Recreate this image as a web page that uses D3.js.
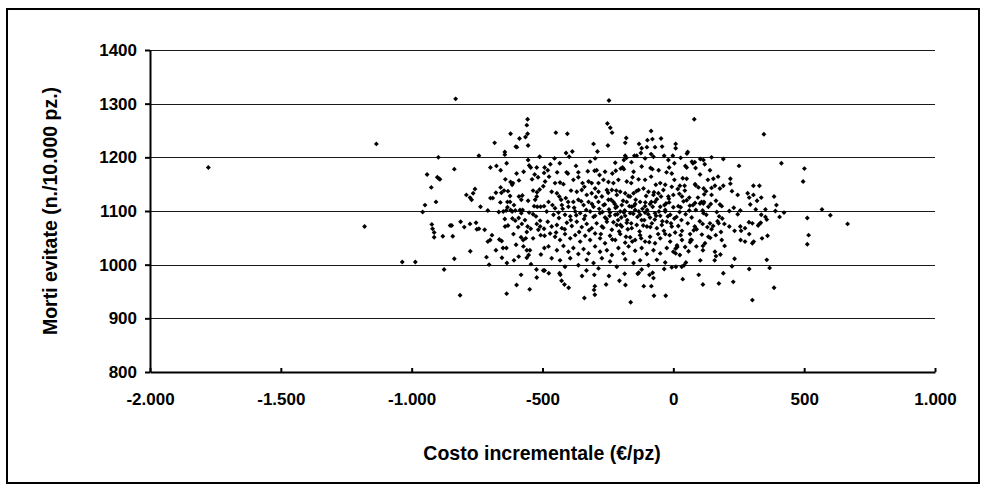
<!DOCTYPE html>
<html><head><meta charset="utf-8">
<script src="https://cdn.jsdelivr.net/npm/d3@7"></script>
<style>
html,body{margin:0;padding:0;background:#fff;}
svg{display:block;}
text{font-family:"Liberation Sans",Arial,sans-serif;font-weight:bold;fill:#000;}
</style></head>
<body>
<svg id="chart" width="987" height="490"></svg>
<script>
// ---- data (costo incrementale €/pz, morti evitate n./10.000 pz.) ----
const xTitle = "Costo incrementale (€/pz)";
const yTitle = "Morti evitate (n./10.000 pz.)";
const xTicks = [-2000, -1500, -1000, -500, 0, 500, 1000];
const xTickLabels = ["-2.000", "-1.500", "-1.000", "-500", "0", "500", "1.000"];
const yTicks = [800, 900, 1000, 1100, 1200, 1300, 1400];
const yTickLabels = ["800", "900", "1000", "1100", "1200", "1300", "1400"];

const outliers = [[-1777,1181],[-1135,1225],[-1180,1071],[-1036,1005],[-986,1005],[-832,1309],[-246,1306],[-557,1271],[-560,1260],[-252,1263],[-241,1255]];

const leftCloud = [[-622,1244],[-588,1235],[-565,1238],[-557,1244],[-683,1227],[-602,1220],[-598,1219],[-555,1222],[-644,1210],[-644,1205],[-743,1203],[-898,1200],[-511,1201],[-637,1189],[-555,1195],[-551,1185],[-699,1181],[-676,1184],[-660,1176],[-941,1168],[-837,1178],[-902,1163],[-895,1160],[-892,1159],[-599,1170],[-572,1173],[-522,1181],[-492,1181],[-545,1181],[-530,1168],[-540,1159],[-517,1163],[-494,1171],[-642,1159],[-622,1154],[-613,1152],[-616,1149],[-590,1157],[-660,1144],[-647,1138],[-632,1137],[-624,1128],[-657,1134],[-678,1134],[-925,1144],[-758,1141],[-765,1133],[-791,1130],[-777,1125],[-771,1121],[-699,1124],[-690,1124],[-907,1117],[-949,1111],[-737,1108],[-661,1116],[-634,1117],[-624,1117],[-609,1111],[-590,1127],[-577,1129],[-581,1121],[-555,1119],[-536,1138],[-521,1135],[-511,1140],[-497,1146],[-528,1121],[-522,1127],[-532,1109],[-520,1108],[-507,1108],[-494,1109],[-634,1107],[-639,1101],[-622,1102],[-616,1099],[-604,1101],[-586,1102],[-576,1102],[-650,1099],[-667,1098],[-709,1101],[-958,1098],[-581,1096],[-551,1097],[-536,1094],[-525,1090],[-923,1075],[-920,1067],[-914,1060],[-914,1051],[-853,1073],[-847,1073],[-799,1070],[-813,1080],[-777,1076],[-754,1078],[-743,1067],[-751,1066],[-721,1065],[-693,1055],[-700,1046],[-709,1043],[-881,1053],[-843,1053],[-644,1085],[-615,1086],[-591,1087],[-567,1083],[-579,1076],[-604,1082],[-643,1071],[-632,1073],[-593,1070],[-557,1071],[-545,1067],[-560,1061],[-522,1076],[-509,1071],[-494,1067],[-509,1082],[-516,1065],[-611,1057],[-582,1051],[-574,1046],[-564,1049],[-536,1049],[-507,1055],[-492,1054],[-665,1047],[-656,1044],[-601,1037],[-573,1034],[-678,1027],[-651,1031],[-638,1031],[-560,1027],[-548,1027],[-776,1025],[-553,1018],[-560,1013],[-506,1019],[-493,1031],[-714,1014],[-655,1013],[-837,1011],[-609,1008],[-591,1015],[-704,1000],[-636,1003],[-544,1001],[-876,991],[-523,991]];

const centreCloud = [[-449,1246],[-405,1244],[-234,1246],[-85,1249],[-180,1236],[-184,1227],[-305,1225],[-250,1222],[-290,1211],[-410,1208],[-386,1211],[-398,1201],[-131,1225],[-99,1232],[-80,1234],[-47,1235],[-121,1217],[-101,1219],[-70,1219],[-43,1220],[-124,1208],[-85,1206],[-184,1203],[-179,1199],[-149,1203],[-140,1203],[-108,1198],[-76,1201],[-35,1203],[-19,1195],[-2,1203],[-454,1198],[-318,1192],[-299,1198],[-222,1190],[-160,1191],[-189,1195],[-470,1187],[-434,1189],[-372,1184],[-480,1176],[-475,1164],[-444,1172],[-408,1172],[-403,1170],[-363,1172],[-327,1174],[-301,1175],[-293,1176],[-261,1173],[-282,1167],[-233,1170],[-220,1175],[-201,1179],[-194,1181],[-189,1178],[-152,1173],[-121,1183],[-87,1180],[-80,1178],[-56,1176],[-26,1172],[-16,1181],[-6,1170],[4,1189],[-490,1155],[-452,1152],[-433,1153],[-420,1150],[-382,1158],[-363,1163],[-347,1152],[-324,1155],[-340,1145],[-312,1152],[-299,1142],[-286,1152],[-267,1158],[-248,1154],[-229,1152],[-210,1158],[-178,1155],[-161,1152],[-156,1163],[-133,1159],[-108,1158],[-85,1164],[-67,1149],[-50,1152],[-31,1149],[-6,1145],[4,1158],[-465,1136],[-445,1133],[-436,1127],[-429,1121],[-411,1124],[-391,1138],[-369,1136],[-350,1139],[-331,1130],[-312,1133],[-286,1136],[-273,1127],[-254,1139],[-235,1139],[-216,1130],[-203,1136],[-184,1133],[-165,1127],[-152,1133],[-133,1139],[-114,1142],[-95,1136],[-76,1130],[-57,1133],[-38,1139],[-19,1127],[0,1130],[-477,1117],[-462,1111],[-452,1105],[-426,1111],[-401,1108],[-382,1117],[-363,1121],[-343,1111],[-324,1117],[-305,1108],[-286,1117],[-267,1111],[-248,1121],[-229,1117],[-216,1108],[-197,1111],[-178,1117],[-159,1108],[-146,1113],[-127,1117],[-108,1109],[-89,1113],[-70,1117],[-50,1108],[-34,1111],[-16,1116],[0,1107],[-484,1099],[-458,1093],[-439,1097],[-414,1093],[-394,1090],[-375,1099],[-356,1096],[-337,1091],[-318,1099],[-299,1091],[-280,1096],[-261,1088],[-242,1097],[-222,1093],[-203,1099],[-184,1091],[-165,1096],[-146,1102],[-127,1093],[-108,1097],[-89,1088],[-70,1096],[-50,1091],[-31,1099],[-12,1093],[4,1086],[-480,1080],[-465,1071],[-445,1074],[-426,1068],[-407,1078],[-388,1072],[-369,1080],[-350,1070],[-331,1076],[-312,1068],[-293,1077],[-273,1071],[-254,1080],[-235,1065],[-216,1074],[-197,1071],[-178,1078],[-159,1068],[-140,1074],[-121,1083],[-101,1071],[-82,1077],[-63,1068],[-44,1074],[-25,1080],[-6,1071],[-471,1058],[-452,1052],[-433,1046],[-414,1057],[-394,1049],[-375,1055],[-356,1043],[-337,1054],[-318,1046],[-299,1058],[-280,1049],[-261,1040],[-242,1054],[-222,1046],[-203,1057],[-184,1041],[-165,1051],[-146,1046],[-127,1055],[-108,1043],[-89,1052],[-70,1040],[-50,1049],[-31,1057],[-12,1043],[-477,1034],[-445,1027],[-420,1035],[-401,1024],[-382,1031],[-363,1020],[-343,1029],[-324,1021],[-299,1034],[-280,1024],[-254,1027],[-235,1018],[-210,1031],[-191,1021],[-171,1034],[-146,1026],[-121,1031],[-101,1020],[-76,1027],[-50,1021],[-25,1031],[0,1024],[-465,1012],[-433,1008],[-394,1012],[-363,999],[-331,1009],[-305,1003],[-273,1012],[-242,1006],[-216,996],[-184,1010],[-152,1003],[-127,1008],[-95,999],[-63,1009],[-31,1004],[-6,995],[-414,996],[-286,993],[-121,991],
[-283,1104],[-271,1098],[-262,1112],[-255,1085],[-246,1103],[-238,1121],[-229,1079],[-221,1106],[-214,1094],[-207,1062],[-199,1088],[-192,1119],[-186,1101],[-176,1083],[-168,1109],[-161,1077],[-153,1095],[-144,1121],[-137,1089],[-129,1062],[-118,1104],[-111,1083],[-104,1128],[-96,1094],[-88,1070],[-79,1108],[-71,1084],[-63,1122],[-55,1099],[-42,1081],[-36,1063],[-28,1114],[-21,1090],[-14,1055],[-9,1077],[-305,1089],[-311,1113],[-322,1064],[-333,1102],[-341,1085],[-352,1118],[-360,1061],[-371,1092],[-379,1106],[-392,1083],[-402,1117],[-415,1066],[-423,1104],[-437,1087],[-448,1060],[-296,1126],[-277,1057],[-249,1134],[-233,1047],[-218,1138],[-202,1074],[-181,1052],[-172,1128],[-157,1043],[-141,1137],[-123,1049],[-107,1116],[-92,1042],[-74,1135],[-58,1057],[-47,1127],[-268,1069],[-243,1091],[-224,1113],[-211,1083],[-189,1097],[-174,1066],[-150,1110],[-132,1099],[-115,1073],[-100,1102],[-84,1117],[-66,1091],[-31,1102],[-17,1123]];

const lowerCloud = [[-815,943],[-637,946],[-599,962],[-582,981],[-549,954],[-522,976],[-497,989],[-492,989],[-476,984],[-435,984],[-432,981],[-427,970],[-416,963],[-400,957],[-349,979],[-332,989],[-340,938],[-302,981],[-300,960],[-300,944],[-303,953],[-257,963],[-246,979],[-206,970],[-186,983],[-183,962],[-163,930],[-136,983],[-132,985],[-113,960],[-84,960],[-91,981],[-79,985],[-76,975],[-74,942],[-29,942],[-35,992]];

const rightCloud = [[80,1271],[346,1243],[413,1189],[251,1184],[501,1179],[496,1155],[568,1103],[600,1092],[666,1076],[512,1087],[517,1055],[512,1038],[423,1097],[406,1089],[394,1111],[385,1127],[390,1100],[357,1084],[360,1054],[352,1089],[302,934],[385,957],[357,1009],[368,994],[290,992],[229,968],[191,984],[174,965],[113,963],[97,981],[36,973],[234,1011],[224,997],[158,1008],[163,1016],[180,1019],[103,1008],[306,1147],[329,1147],[306,1130],[336,1125],[284,1133],[290,1125],[320,1119],[294,1112],[315,1103],[352,1103],[336,1093],[329,1076],[334,1078],[324,1073],[302,1077],[289,1079],[274,1068],[256,1071],[259,1063],[234,1063],[290,1057],[307,1043],[302,1040],[274,1043],[257,1046],[339,1049],[246,1094],[256,1101],[231,1106],[214,1100],[246,1130],[224,1137],[218,1151],[218,1160],[191,1147],[178,1142],[171,1164],[153,1160],[159,1147],[185,1109],[178,1112],[163,1119],[166,1098],[146,1130],[140,1176],[191,1197],[146,1200],[115,1195],[120,1187],[103,1197],[82,1191],[75,1189],[71,1192],[85,1180],[102,1168],[83,1150],[85,1148],[55,1210],[52,1207],[28,1199],[9,1225],[9,1217],[51,1181],[46,1184],[36,1161],[51,1160],[25,1147],[43,1147],[116,1142],[125,1137],[146,1143],[102,1114],[108,1117],[115,1114],[117,1117],[134,1108],[75,1111],[83,1115],[61,1125],[51,1120],[23,1132],[33,1127],[28,1107],[19,1109],[61,1101],[112,1101],[115,1096],[130,1070],[112,1076],[89,1066],[82,1071],[64,1057],[70,1046],[64,1042],[33,1063],[28,1055],[33,1046],[45,1033],[15,1033],[9,1030],[9,1021],[25,1018],[10,996],[32,996],[48,1004],[41,999],[113,1035],[113,1027],[141,1050],[162,1055],[159,1024],[196,1035],[185,1046],[195,1076],[214,1071],[173,1077],[169,1081],[187,1086],[140,1077],[146,1066],[182,1061],
[12,1089],[19,1072],[24,1098],[31,1083],[39,1118],[47,1094],[55,1077],[63,1110],[70,1088],[78,1064],[86,1102],[94,1125],[101,1081],[109,1056],[118,1131],[126,1093],[134,1052],[143,1113],[152,1072],[17,1141],[44,1138],[66,1046],[88,1034],[121,1040],[7,1060],[14,1036],[58,1025],[96,1144],[132,1158],[175,1090]];

const simulazioni = [].concat(outliers, leftCloud, centreCloud, lowerCloud, rightCloud);

// ---- layout ----
const svg = d3.select("#chart");
const x = d3.scaleLinear().domain([-2000, 1000]).range([150, 935]);
const y = d3.scaleLinear().domain([800, 1400]).range([372, 50]);
const FONT = "'Liberation Sans', Arial, sans-serif";

// outer frame
svg.append("rect").attr("x", 7).attr("y", 9).attr("width", 972).attr("height", 474)
  .attr("fill", "none").attr("stroke", "#000").attr("stroke-width", 2);

// gridlines
svg.append("g").selectAll("line").data(yTicks.filter(d => d > 800)).join("line")
  .attr("x1", x(-2000)).attr("x2", x(1000))
  .attr("y1", d => Math.round(y(d)) + 0.5).attr("y2", d => Math.round(y(d)) + 0.5)
  .attr("stroke", "#1a1a1a").attr("stroke-width", 1.2);

// y axis
const yAxis = d3.axisLeft(y).tickValues(yTicks).tickFormat((d, i) => yTickLabels[i])
  .tickSizeInner(5).tickSizeOuter(0).tickPadding(8);
const gy = svg.append("g").attr("transform", `translate(${x(-2000)},0)`).call(yAxis);
gy.select(".domain").attr("stroke-width", 2).attr("stroke", "#000");
gy.selectAll(".tick line").attr("stroke-width", 2).attr("stroke", "#000");
gy.selectAll("text").style("font-size", "17px").style("font-weight", "bold")
  .style("font-family", FONT);

// x axis (ticks pointing inward)
const xAxis = d3.axisBottom(x).tickValues(xTicks).tickFormat((d, i) => xTickLabels[i])
  .tickSizeInner(-4).tickSizeOuter(0).tickPadding(21);
const gx = svg.append("g").attr("transform", `translate(0,${y(800)})`).call(xAxis);
gx.select(".domain").attr("stroke-width", 2).attr("stroke", "#000");
gx.selectAll(".tick line").attr("stroke-width", 2).attr("stroke", "#000");
gx.selectAll("text").style("font-size", "17px").style("font-weight", "bold")
  .style("font-family", FONT);

// points (small square-diamond markers)
const marker = d3.symbol().type(d3.symbolSquare).size(12);
svg.append("g").selectAll("path").data(simulazioni).join("path")
  .attr("d", marker)
  .attr("transform", d => `translate(${x(d[0])},${y(d[1])}) rotate(45)`)
  .attr("fill", "#000");

// titles
svg.append("text").attr("x", 542).attr("y", 460).attr("text-anchor", "middle")
  .style("font-size", "19.5px").text(xTitle);
svg.append("text").attr("transform", `translate(57,211) rotate(-90)`).attr("text-anchor", "middle")
  .style("font-size", "19.5px").text(yTitle);
</script>
</body></html>
